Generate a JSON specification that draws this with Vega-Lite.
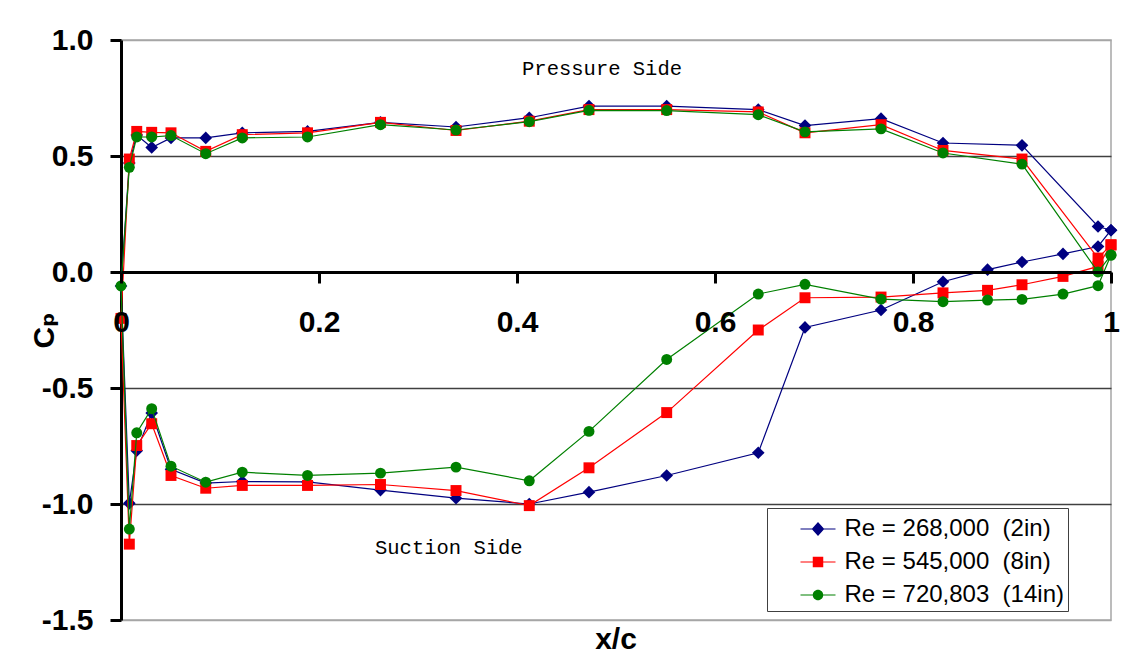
{
  "$schema": "https://vega.github.io/schema/vega-lite/v6.json",
  "width": 990,
  "height": 580,
  "autosize": {"type": "none"},
  "padding": {"left": 121, "top": 40, "right": 32, "bottom": 46},
  "background": "white",
  "title": {"text": "x/c", "orient": "bottom", "anchor": "middle", "frame": "group", "font": "Liberation Sans", "fontSize": 30, "fontWeight": "bold", "color": "black", "offset": -10},
  "config": {"view": {"stroke": "#a6a6a6", "strokeWidth": 1.5}, "font": "Liberation Sans"},
  "datasets": {
    "cp": [
      {"k":1,"s":"Re = 268,000 \u00a0(2in)","o":0,"x":1.0,"cp":0.18},
      {"k":1,"s":"Re = 268,000 \u00a0(2in)","o":1,"x":0.9869,"cp":0.196},
      {"k":1,"s":"Re = 268,000 \u00a0(2in)","o":2,"x":0.9101,"cp":0.546},
      {"k":1,"s":"Re = 268,000 \u00a0(2in)","o":3,"x":0.8303,"cp":0.556},
      {"k":1,"s":"Re = 268,000 \u00a0(2in)","o":4,"x":0.7677,"cp":0.661},
      {"k":1,"s":"Re = 268,000 \u00a0(2in)","o":5,"x":0.6909,"cp":0.631},
      {"k":1,"s":"Re = 268,000 \u00a0(2in)","o":6,"x":0.6437,"cp":0.700},
      {"k":1,"s":"Re = 268,000 \u00a0(2in)","o":7,"x":0.5512,"cp":0.715},
      {"k":1,"s":"Re = 268,000 \u00a0(2in)","o":8,"x":0.4727,"cp":0.715},
      {"k":1,"s":"Re = 268,000 \u00a0(2in)","o":9,"x":0.4124,"cp":0.665},
      {"k":1,"s":"Re = 268,000 \u00a0(2in)","o":10,"x":0.3384,"cp":0.625},
      {"k":1,"s":"Re = 268,000 \u00a0(2in)","o":11,"x":0.2621,"cp":0.645},
      {"k":1,"s":"Re = 268,000 \u00a0(2in)","o":12,"x":0.1884,"cp":0.606},
      {"k":1,"s":"Re = 268,000 \u00a0(2in)","o":13,"x":0.1225,"cp":0.600},
      {"k":1,"s":"Re = 268,000 \u00a0(2in)","o":14,"x":0.0856,"cp":0.578},
      {"k":1,"s":"Re = 268,000 \u00a0(2in)","o":15,"x":0.0505,"cp":0.578},
      {"k":1,"s":"Re = 268,000 \u00a0(2in)","o":16,"x":0.031,"cp":0.537},
      {"k":1,"s":"Re = 268,000 \u00a0(2in)","o":17,"x":0.0159,"cp":0.590},
      {"k":1,"s":"Re = 268,000 \u00a0(2in)","o":18,"x":0.0084,"cp":0.470},
      {"k":1,"s":"Re = 268,000 \u00a0(2in)","o":19,"x":0.0,"cp":-0.06},
      {"k":1,"s":"Re = 268,000 \u00a0(2in)","o":20,"x":0.0084,"cp":-0.997},
      {"k":1,"s":"Re = 268,000 \u00a0(2in)","o":21,"x":0.0159,"cp":-0.770},
      {"k":1,"s":"Re = 268,000 \u00a0(2in)","o":22,"x":0.031,"cp":-0.608},
      {"k":1,"s":"Re = 268,000 \u00a0(2in)","o":23,"x":0.0505,"cp":-0.850},
      {"k":1,"s":"Re = 268,000 \u00a0(2in)","o":24,"x":0.0856,"cp":-0.910},
      {"k":1,"s":"Re = 268,000 \u00a0(2in)","o":25,"x":0.1225,"cp":-0.903},
      {"k":1,"s":"Re = 268,000 \u00a0(2in)","o":26,"x":0.1884,"cp":-0.905},
      {"k":1,"s":"Re = 268,000 \u00a0(2in)","o":27,"x":0.2621,"cp":-0.940},
      {"k":1,"s":"Re = 268,000 \u00a0(2in)","o":28,"x":0.3384,"cp":-0.975},
      {"k":1,"s":"Re = 268,000 \u00a0(2in)","o":29,"x":0.4124,"cp":-1.000},
      {"k":1,"s":"Re = 268,000 \u00a0(2in)","o":30,"x":0.4727,"cp":-0.949},
      {"k":1,"s":"Re = 268,000 \u00a0(2in)","o":31,"x":0.5512,"cp":-0.877},
      {"k":1,"s":"Re = 268,000 \u00a0(2in)","o":32,"x":0.6437,"cp":-0.779},
      {"k":1,"s":"Re = 268,000 \u00a0(2in)","o":33,"x":0.6909,"cp":-0.239},
      {"k":1,"s":"Re = 268,000 \u00a0(2in)","o":34,"x":0.7677,"cp":-0.164},
      {"k":1,"s":"Re = 268,000 \u00a0(2in)","o":35,"x":0.8303,"cp":-0.042},
      {"k":1,"s":"Re = 268,000 \u00a0(2in)","o":36,"x":0.8753,"cp":0.010},
      {"k":1,"s":"Re = 268,000 \u00a0(2in)","o":37,"x":0.9101,"cp":0.043},
      {"k":1,"s":"Re = 268,000 \u00a0(2in)","o":38,"x":0.9515,"cp":0.078},
      {"k":1,"s":"Re = 268,000 \u00a0(2in)","o":39,"x":0.9869,"cp":0.110},
      {"k":1,"s":"Re = 268,000 \u00a0(2in)","o":40,"x":1.0,"cp":0.18},

      {"k":2,"s":"Re = 545,000 \u00a0(8in)","o":0,"x":1.0,"cp":0.117},
      {"k":2,"s":"Re = 545,000 \u00a0(8in)","o":1,"x":0.9869,"cp":0.060},
      {"k":2,"s":"Re = 545,000 \u00a0(8in)","o":2,"x":0.9101,"cp":0.487},
      {"k":2,"s":"Re = 545,000 \u00a0(8in)","o":3,"x":0.8303,"cp":0.524},
      {"k":2,"s":"Re = 545,000 \u00a0(8in)","o":4,"x":0.7677,"cp":0.635},
      {"k":2,"s":"Re = 545,000 \u00a0(8in)","o":5,"x":0.6909,"cp":0.600},
      {"k":2,"s":"Re = 545,000 \u00a0(8in)","o":6,"x":0.6437,"cp":0.690},
      {"k":2,"s":"Re = 545,000 \u00a0(8in)","o":7,"x":0.5512,"cp":0.700},
      {"k":2,"s":"Re = 545,000 \u00a0(8in)","o":8,"x":0.4727,"cp":0.700},
      {"k":2,"s":"Re = 545,000 \u00a0(8in)","o":9,"x":0.4124,"cp":0.650},
      {"k":2,"s":"Re = 545,000 \u00a0(8in)","o":10,"x":0.3384,"cp":0.610},
      {"k":2,"s":"Re = 545,000 \u00a0(8in)","o":11,"x":0.2621,"cp":0.645},
      {"k":2,"s":"Re = 545,000 \u00a0(8in)","o":12,"x":0.1884,"cp":0.600},
      {"k":2,"s":"Re = 545,000 \u00a0(8in)","o":13,"x":0.1225,"cp":0.592},
      {"k":2,"s":"Re = 545,000 \u00a0(8in)","o":14,"x":0.0856,"cp":0.520},
      {"k":2,"s":"Re = 545,000 \u00a0(8in)","o":15,"x":0.0505,"cp":0.600},
      {"k":2,"s":"Re = 545,000 \u00a0(8in)","o":16,"x":0.031,"cp":0.602},
      {"k":2,"s":"Re = 545,000 \u00a0(8in)","o":17,"x":0.0159,"cp":0.606},
      {"k":2,"s":"Re = 545,000 \u00a0(8in)","o":18,"x":0.0084,"cp":0.487},
      {"k":2,"s":"Re = 545,000 \u00a0(8in)","o":19,"x":0.0,"cp":-0.20},
      {"k":2,"s":"Re = 545,000 \u00a0(8in)","o":20,"x":0.0084,"cp":-1.173},
      {"k":2,"s":"Re = 545,000 \u00a0(8in)","o":21,"x":0.0159,"cp":-0.748},
      {"k":2,"s":"Re = 545,000 \u00a0(8in)","o":22,"x":0.031,"cp":-0.654},
      {"k":2,"s":"Re = 545,000 \u00a0(8in)","o":23,"x":0.0505,"cp":-0.877},
      {"k":2,"s":"Re = 545,000 \u00a0(8in)","o":24,"x":0.0856,"cp":-0.932},
      {"k":2,"s":"Re = 545,000 \u00a0(8in)","o":25,"x":0.1225,"cp":-0.920},
      {"k":2,"s":"Re = 545,000 \u00a0(8in)","o":26,"x":0.1884,"cp":-0.920},
      {"k":2,"s":"Re = 545,000 \u00a0(8in)","o":27,"x":0.2621,"cp":-0.916},
      {"k":2,"s":"Re = 545,000 \u00a0(8in)","o":28,"x":0.3384,"cp":-0.942},
      {"k":2,"s":"Re = 545,000 \u00a0(8in)","o":29,"x":0.4124,"cp":-1.007},
      {"k":2,"s":"Re = 545,000 \u00a0(8in)","o":30,"x":0.4727,"cp":-0.844},
      {"k":2,"s":"Re = 545,000 \u00a0(8in)","o":31,"x":0.5512,"cp":-0.606},
      {"k":2,"s":"Re = 545,000 \u00a0(8in)","o":32,"x":0.6437,"cp":-0.250},
      {"k":2,"s":"Re = 545,000 \u00a0(8in)","o":33,"x":0.6909,"cp":-0.111},
      {"k":2,"s":"Re = 545,000 \u00a0(8in)","o":34,"x":0.7677,"cp":-0.108},
      {"k":2,"s":"Re = 545,000 \u00a0(8in)","o":35,"x":0.8303,"cp":-0.090},
      {"k":2,"s":"Re = 545,000 \u00a0(8in)","o":36,"x":0.8753,"cp":-0.079},
      {"k":2,"s":"Re = 545,000 \u00a0(8in)","o":37,"x":0.9101,"cp":-0.055},
      {"k":2,"s":"Re = 545,000 \u00a0(8in)","o":38,"x":0.9515,"cp":-0.019},
      {"k":2,"s":"Re = 545,000 \u00a0(8in)","o":39,"x":0.9869,"cp":0.024},
      {"k":2,"s":"Re = 545,000 \u00a0(8in)","o":40,"x":1.0,"cp":0.117},

      {"k":3,"s":"Re = 720,803 \u00a0(14in)","o":0,"x":1.0,"cp":0.073},
      {"k":3,"s":"Re = 720,803 \u00a0(14in)","o":1,"x":0.9869,"cp":0.000},
      {"k":3,"s":"Re = 720,803 \u00a0(14in)","o":2,"x":0.9101,"cp":0.465},
      {"k":3,"s":"Re = 720,803 \u00a0(14in)","o":3,"x":0.8303,"cp":0.513},
      {"k":3,"s":"Re = 720,803 \u00a0(14in)","o":4,"x":0.7677,"cp":0.617},
      {"k":3,"s":"Re = 720,803 \u00a0(14in)","o":5,"x":0.6909,"cp":0.604},
      {"k":3,"s":"Re = 720,803 \u00a0(14in)","o":6,"x":0.6437,"cp":0.678},
      {"k":3,"s":"Re = 720,803 \u00a0(14in)","o":7,"x":0.5512,"cp":0.696},
      {"k":3,"s":"Re = 720,803 \u00a0(14in)","o":8,"x":0.4727,"cp":0.697},
      {"k":3,"s":"Re = 720,803 \u00a0(14in)","o":9,"x":0.4124,"cp":0.648},
      {"k":3,"s":"Re = 720,803 \u00a0(14in)","o":10,"x":0.3384,"cp":0.612},
      {"k":3,"s":"Re = 720,803 \u00a0(14in)","o":11,"x":0.2621,"cp":0.635},
      {"k":3,"s":"Re = 720,803 \u00a0(14in)","o":12,"x":0.1884,"cp":0.582},
      {"k":3,"s":"Re = 720,803 \u00a0(14in)","o":13,"x":0.1225,"cp":0.578},
      {"k":3,"s":"Re = 720,803 \u00a0(14in)","o":14,"x":0.0856,"cp":0.510},
      {"k":3,"s":"Re = 720,803 \u00a0(14in)","o":15,"x":0.0505,"cp":0.588},
      {"k":3,"s":"Re = 720,803 \u00a0(14in)","o":16,"x":0.031,"cp":0.582},
      {"k":3,"s":"Re = 720,803 \u00a0(14in)","o":17,"x":0.0159,"cp":0.582},
      {"k":3,"s":"Re = 720,803 \u00a0(14in)","o":18,"x":0.0084,"cp":0.451},
      {"k":3,"s":"Re = 720,803 \u00a0(14in)","o":19,"x":0.0,"cp":-0.06},
      {"k":3,"s":"Re = 720,803 \u00a0(14in)","o":20,"x":0.0084,"cp":-1.108},
      {"k":3,"s":"Re = 720,803 \u00a0(14in)","o":21,"x":0.0159,"cp":-0.693},
      {"k":3,"s":"Re = 720,803 \u00a0(14in)","o":22,"x":0.031,"cp":-0.589},
      {"k":3,"s":"Re = 720,803 \u00a0(14in)","o":23,"x":0.0505,"cp":-0.837},
      {"k":3,"s":"Re = 720,803 \u00a0(14in)","o":24,"x":0.0856,"cp":-0.906},
      {"k":3,"s":"Re = 720,803 \u00a0(14in)","o":25,"x":0.1225,"cp":-0.863},
      {"k":3,"s":"Re = 720,803 \u00a0(14in)","o":26,"x":0.1884,"cp":-0.877},
      {"k":3,"s":"Re = 720,803 \u00a0(14in)","o":27,"x":0.2621,"cp":-0.867},
      {"k":3,"s":"Re = 720,803 \u00a0(14in)","o":28,"x":0.3384,"cp":-0.841},
      {"k":3,"s":"Re = 720,803 \u00a0(14in)","o":29,"x":0.4124,"cp":-0.900},
      {"k":3,"s":"Re = 720,803 \u00a0(14in)","o":30,"x":0.4727,"cp":-0.687},
      {"k":3,"s":"Re = 720,803 \u00a0(14in)","o":31,"x":0.5512,"cp":-0.377},
      {"k":3,"s":"Re = 720,803 \u00a0(14in)","o":32,"x":0.6437,"cp":-0.095},
      {"k":3,"s":"Re = 720,803 \u00a0(14in)","o":33,"x":0.6909,"cp":-0.053},
      {"k":3,"s":"Re = 720,803 \u00a0(14in)","o":34,"x":0.7677,"cp":-0.117},
      {"k":3,"s":"Re = 720,803 \u00a0(14in)","o":35,"x":0.8303,"cp":-0.128},
      {"k":3,"s":"Re = 720,803 \u00a0(14in)","o":36,"x":0.8753,"cp":-0.121},
      {"k":3,"s":"Re = 720,803 \u00a0(14in)","o":37,"x":0.9101,"cp":-0.118},
      {"k":3,"s":"Re = 720,803 \u00a0(14in)","o":38,"x":0.9515,"cp":-0.095},
      {"k":3,"s":"Re = 720,803 \u00a0(14in)","o":39,"x":0.9869,"cp":-0.059},
      {"k":3,"s":"Re = 720,803 \u00a0(14in)","o":40,"x":1.0,"cp":0.073}
    ],
    "notes": [
      {"x": 0.4859, "cp": 0.874, "label": "Pressure Side"},
      {"x": 0.3311, "cp": -1.189, "label": "Suction Side"}
    ]
  },
  "data": {"name": "cp"},
  "encoding": {
    "x": {
      "field": "x", "type": "quantitative",
      "scale": {"domain": [0, 1], "nice": false, "zero": false},
      "axis": {
        "orient": "bottom", "offset": -348, "zindex": 1,
        "values": [0, 0.2, 0.4, 0.6, 0.8, 1], "format": "~g",
        "labelFont": "Liberation Sans", "labelFontSize": 30, "labelFontWeight": "bold", "labelColor": "black",
        "labelPadding": 24, "labelFlush": false, "labelOverlap": false,
        "tickSize": 11, "tickWidth": 3, "tickColor": "black",
        "domainColor": "black", "domainWidth": 3,
        "grid": false, "title": null
      }
    },
    "y": {
      "field": "cp", "type": "quantitative",
      "scale": {"domain": [-1.5, 1], "nice": false, "zero": false},
      "axis": {
        "values": [-1.5, -1, -0.5, 0, 0.5, 1],
        "labelExpr": "replace(format(datum.value, '.1f'), '\u2212', '-')",
        "labelFont": "Liberation Sans", "labelFontSize": 30, "labelFontWeight": "bold", "labelColor": "black",
        "labelPadding": 17, "labelOverlap": false, "labelFlush": false,
        "tickSize": 11, "tickWidth": 3, "tickColor": "black",
        "domainColor": "black", "domainWidth": 3,
        "grid": true,
        "gridColor": {"condition": {"test": "datum.value == 1 || datum.value == -1.5", "value": "#a6a6a6"}, "value": "#404040"},
        "gridWidth": 1.3,
        "title": "C\u209a",
        "titleFont": "Liberation Sans, DejaVu Sans", "titleFontSize": 30, "titleFontWeight": "bold", "titleColor": "black",
        "titleAngle": -90, "titleX": -68, "titleY": 290, "titleAlign": "center", "titleBaseline": "alphabetic"
      }
    },
    "color": {
      "field": "s", "type": "nominal",
      "scale": {"domain": ["Re = 268,000 \u00a0(2in)", "Re = 545,000 \u00a0(8in)", "Re = 720,803 \u00a0(14in)"], "range": ["#000080", "#ff0000", "#008000"]},
      "legend": null
    }
  },
  "layer": [
    {
      "mark": {"type": "point", "filled": true, "opacity": 0},
      "encoding": {
        "color": {
          "field": "s", "type": "nominal",
          "scale": {"domain": ["Re = 268,000 \u00a0(2in)", "Re = 545,000 \u00a0(8in)", "Re = 720,803 \u00a0(14in)"], "range": ["#000080", "#ff0000", "#008000"]},
          "legend": {
            "title": null, "orient": "none", "legendX": 646, "legendY": 468,
            "symbolSize": 1225, "symbolStrokeWidth": 0, "symbolOpacity": 1, "symbolOffset": 30,
            "labelFont": "Liberation Sans", "labelFontSize": 24, "labelColor": "black", "labelOffset": 9, "labelLimit": 600,
            "labelExpr": "datum.label + '\u00a0\u00a0\u00a0\u00a0\u00a0\u00a0'",
            "rowPadding": 3, "padding": 3.5, "fillColor": "white", "strokeColor": "#404040"
          }
        },
        "shape": {
          "field": "s", "type": "nominal",
          "scale": {
            "domain": ["Re = 268,000 \u00a0(2in)", "Re = 545,000 \u00a0(8in)", "Re = 720,803 \u00a0(14in)"],
            "range": [
              "M-1,-0.035L-0.3,-0.035L-0.3,0.035L-1,0.035Z M0.3,-0.035L1,-0.035L1,0.035L0.3,0.035Z M0,-0.4L0.36,0L0,0.4L-0.36,0Z",
              "M-1,-0.035L-0.3,-0.035L-0.3,0.035L-1,0.035Z M0.3,-0.035L1,-0.035L1,0.035L0.3,0.035Z M-0.3,-0.3L0.3,-0.3L0.3,0.3L-0.3,0.3Z",
              "M-1,-0.035L-0.3,-0.035L-0.3,0.035L-1,0.035Z M0.3,-0.035L1,-0.035L1,0.035L0.3,0.035Z M-0.3,0A0.3,0.3 0 1,0 0.3,0A0.3,0.3 0 1,0 -0.3,0Z"
            ]
          },
          "legend": {
            "title": null, "orient": "none", "legendX": 646, "legendY": 468,
            "symbolSize": 1225, "symbolStrokeWidth": 0, "symbolOpacity": 1, "symbolOffset": 30,
            "labelFont": "Liberation Sans", "labelFontSize": 24, "labelColor": "black", "labelOffset": 9, "labelLimit": 600,
            "labelExpr": "datum.label + '\u00a0\u00a0\u00a0\u00a0\u00a0\u00a0'",
            "rowPadding": 3, "padding": 3.5, "fillColor": "white", "strokeColor": "#404040"
          }
        }
      }
    },
    {"transform": [{"filter": "datum.k == 1"}], "mark": {"type": "line", "strokeWidth": 1.2}, "encoding": {"order": {"field": "o", "type": "quantitative"}}},
    {"transform": [{"filter": "datum.k == 1"}], "mark": {"type": "point", "shape": "diamond", "filled": true, "size": 160, "opacity": 1, "strokeWidth": 0}},
    {"transform": [{"filter": "datum.k == 2"}], "mark": {"type": "line", "strokeWidth": 1.2}, "encoding": {"order": {"field": "o", "type": "quantitative"}}},
    {"transform": [{"filter": "datum.k == 2"}], "mark": {"type": "point", "shape": "square", "filled": true, "size": 120, "opacity": 1, "strokeWidth": 0}},
    {"transform": [{"filter": "datum.k == 3"}], "mark": {"type": "line", "strokeWidth": 1.2}, "encoding": {"order": {"field": "o", "type": "quantitative"}}},
    {"transform": [{"filter": "datum.k == 3"}], "mark": {"type": "point", "shape": "circle", "filled": true, "size": 120, "opacity": 1, "strokeWidth": 0}},
    {
      "data": {"name": "notes"},
      "mark": {"type": "text", "font": "Liberation Mono", "fontSize": 20.5, "align": "center", "baseline": "middle"},
      "encoding": {"text": {"field": "label"}, "color": {"value": "black"}}
    }
  ]
}
